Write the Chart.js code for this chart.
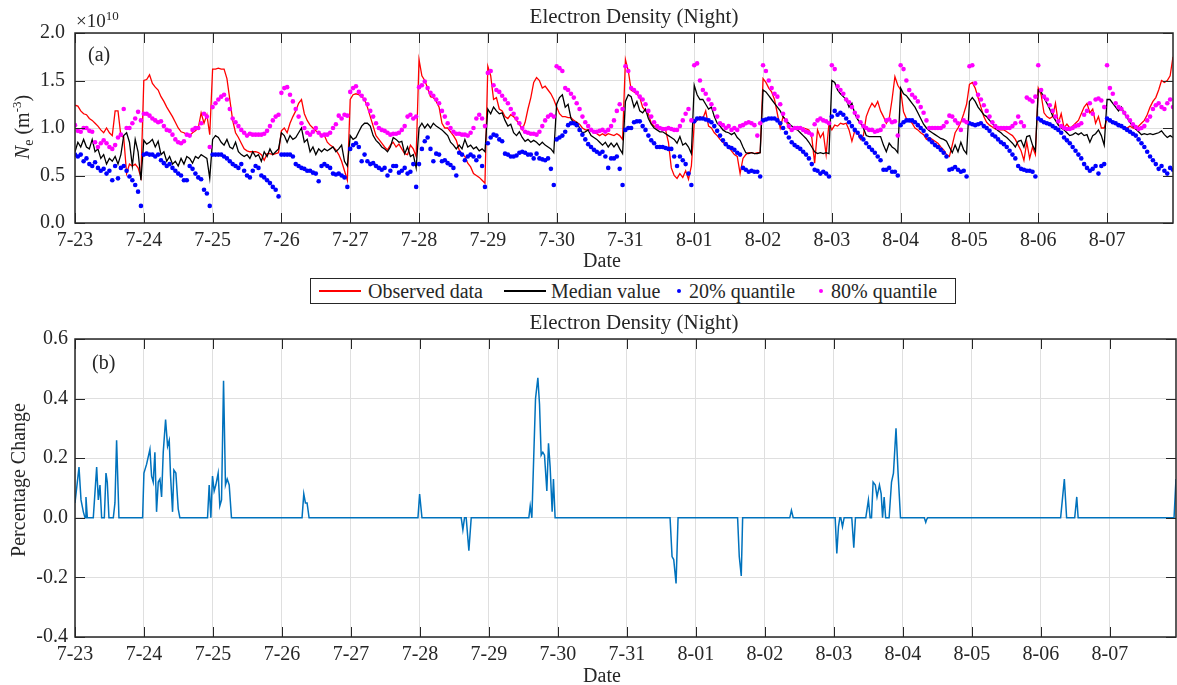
<!DOCTYPE html>
<html>
<head>
<meta charset="utf-8">
<script src="https://cdn.jsdelivr.net/npm/chart.js@4.4.1/dist/chart.umd.min.js"></script>
<style>
  body { margin: 0; background: #fff; }
  #wrap { position: relative; width: 1177px; height: 685px; overflow: hidden; font-family: 'Liberation Serif', 'Times New Roman', serif; color: #262626; }
  canvas { position: absolute; left: 0; }
  #legend { position: absolute; left: 310px; top: 278px; width: 644px; height: 24px; border: 1px solid #262626; background: #fff; font-size: 20px; }
  #legend span { position: absolute; top: 0; line-height: 24px; white-space: nowrap; }
  #legend .ln { top: 11px; height: 1.5px; }
  #legend .dot { top: 10px; width: 4px; height: 4px; border-radius: 50%; }
</style>
</head>
<body>
<div id="wrap">
  <canvas id="top" width="1177" height="272" style="top:0"></canvas>
  <div id="legend"></div>
  <canvas id="bottom" width="1177" height="380" style="top:305px"></canvas>
</div>
<script>
// tick labels for each day
var dayLabels = ['7-23','7-24','7-25','7-26','7-27','7-28','7-29','7-30','7-31','8-01','8-02','8-03','8-04','8-05','8-06','8-07'];

// hourly values, x1e10 m^-3, one row per day
var observed = [
1.24,1.23,1.18,1.15,1.14,1.10,1.08,1.05,1.02,0.98,0.95,1.00,0.95,0.92,1.18,1.18,0.92,0.90,0.52,0.62,0.60,0.62,0.58,0.48,
1.50,1.51,1.56,1.47,1.43,1.40,1.33,1.28,1.22,1.17,1.12,1.06,1.00,0.96,0.95,0.93,0.92,0.95,0.97,1.00,1.16,1.05,1.14,0.93,
1.62,1.62,1.63,1.62,1.62,1.52,1.30,1.08,0.95,0.90,0.84,0.78,0.76,0.75,0.75,0.75,0.74,0.72,0.66,0.73,0.73,0.72,0.73,0.74,
0.97,1.00,0.95,1.05,1.12,1.18,1.26,1.30,1.15,1.08,1.03,1.00,0.97,0.95,0.93,0.92,0.85,0.82,0.80,0.77,0.72,0.65,0.55,0.45,
1.30,1.35,1.36,1.35,1.33,1.30,1.22,1.12,1.02,0.92,0.88,0.84,0.80,0.77,0.82,0.85,0.80,0.83,0.78,0.73,0.72,0.82,0.78,0.70,
1.72,1.55,1.50,1.42,1.33,1.32,1.28,1.22,1.05,1.00,1.00,0.96,0.92,0.87,0.77,0.73,0.70,0.63,0.59,0.52,0.50,0.48,0.45,0.42,
1.65,1.55,1.30,1.32,1.20,1.18,1.12,1.10,1.14,1.12,1.08,1.04,0.98,1.06,1.20,1.32,1.48,1.53,1.50,1.42,1.44,1.40,1.36,1.30,
1.22,1.15,1.12,1.12,1.11,1.11,1.08,1.06,1.04,1.00,0.98,0.98,0.97,0.95,0.94,0.92,0.94,0.92,0.94,0.93,0.92,0.94,0.92,0.88,
1.72,1.60,1.40,1.38,1.36,1.32,1.22,1.18,1.15,1.05,1.02,1.00,1.00,1.00,0.98,0.85,0.58,0.50,0.47,0.52,0.48,0.55,0.46,0.60,
1.05,1.08,1.12,1.10,1.18,1.02,1.00,0.95,0.92,0.88,0.85,0.82,0.80,0.76,0.72,0.70,0.52,0.68,0.72,0.74,0.74,0.73,0.74,0.74,
1.52,1.48,1.42,1.38,1.30,1.15,1.00,1.12,1.08,1.00,0.98,0.99,0.98,0.99,1.00,0.99,0.98,0.90,0.63,0.98,0.90,0.95,0.72,1.05,
0.98,1.03,1.02,1.05,1.04,1.05,0.98,0.86,0.97,0.95,0.88,0.92,1.12,1.20,1.26,1.22,1.28,1.18,1.12,1.05,1.10,1.30,1.54,1.45,
1.40,1.17,1.10,1.08,1.05,1.00,0.98,0.95,0.93,0.88,0.90,0.88,0.86,0.84,0.80,0.77,0.72,0.70,0.82,0.95,1.00,1.06,1.15,1.25,
1.46,1.48,1.42,1.32,1.22,1.12,1.06,1.03,1.01,0.99,0.98,0.98,0.98,0.96,0.94,0.92,0.88,0.82,0.76,0.66,0.85,0.68,0.80,0.72,
1.42,1.35,1.16,1.12,1.10,1.12,1.26,1.05,1.15,1.00,1.04,1.00,1.02,1.05,1.08,1.15,1.22,1.26,1.16,1.20,1.05,1.12,1.00,1.00,
1.10,1.08,1.05,1.04,1.03,1.02,1.00,1.00,1.02,1.00,0.99,1.02,1.05,1.08,1.14,1.22,1.28,1.32,1.40,1.50,1.48,1.50,1.55,1.75
];

var median = [
0.75,0.85,0.80,0.88,0.80,0.78,0.88,0.75,0.78,0.68,0.72,0.62,0.68,0.65,0.70,0.62,0.72,0.92,0.95,0.85,0.60,0.88,0.75,0.45,
0.87,0.83,0.85,0.88,0.80,0.86,0.72,0.75,0.65,0.70,0.62,0.65,0.60,0.68,0.62,0.70,0.68,0.63,0.70,0.68,0.72,0.70,0.68,0.47,
0.88,0.92,0.90,0.85,0.82,0.88,0.80,0.78,0.85,0.75,0.72,0.70,0.72,0.68,0.75,0.70,0.72,0.65,0.75,0.70,0.78,0.72,0.75,0.78,
0.95,0.92,0.85,0.92,0.88,0.90,0.95,1.00,0.85,0.88,0.75,0.80,0.72,0.78,0.75,0.78,0.76,0.78,0.80,0.75,0.78,0.82,0.65,0.60,
0.92,0.88,0.90,0.96,1.02,1.05,1.05,1.02,0.92,0.87,0.84,0.80,0.78,0.75,0.80,0.90,0.88,0.85,0.86,0.73,0.80,0.70,0.72,0.58,
1.00,1.05,1.00,1.04,1.00,1.05,1.02,1.00,0.98,0.95,0.92,0.85,0.82,0.78,0.82,0.78,0.88,0.80,0.82,0.78,0.80,0.76,0.78,0.75,
1.20,1.15,1.22,1.18,1.15,1.16,1.08,1.02,1.04,0.95,0.92,0.96,0.90,0.86,0.88,0.85,0.87,0.85,0.82,0.85,0.82,0.80,0.78,0.74,
1.25,1.32,1.35,1.22,1.25,1.10,1.05,1.06,1.00,0.95,0.96,0.98,0.92,0.90,0.88,0.85,0.82,0.85,0.80,0.84,0.80,0.84,0.78,0.73,
1.28,1.35,1.33,1.22,1.28,1.18,1.16,1.20,1.10,1.04,1.00,0.98,0.96,0.96,0.94,0.92,0.90,0.88,0.84,0.91,0.82,0.84,0.80,0.73,
1.45,1.35,1.30,1.30,1.25,1.20,1.22,1.12,1.05,1.02,0.98,0.96,0.95,0.93,0.95,0.90,0.87,0.80,0.74,0.73,0.74,0.73,0.73,0.74,
1.40,1.38,1.34,1.30,1.26,1.22,1.18,1.12,1.08,1.05,1.02,1.00,0.98,0.95,0.92,0.89,0.85,0.80,0.75,0.73,0.74,0.73,0.74,0.73,
1.50,1.48,1.40,1.36,1.33,1.30,1.22,1.26,1.15,1.09,1.05,1.00,0.92,0.91,0.91,0.91,0.91,0.91,0.82,0.75,0.84,0.80,0.78,0.74,
1.42,1.36,1.34,1.30,1.26,1.22,1.16,1.10,1.04,1.00,0.97,0.95,0.93,0.91,0.89,0.88,0.86,0.80,0.74,0.82,0.75,0.85,0.77,0.73,
1.28,1.32,1.28,1.22,1.18,1.14,1.12,1.08,1.05,1.00,0.97,0.95,0.92,0.90,0.87,0.84,0.80,0.86,0.87,0.80,0.91,0.92,0.82,0.76,
1.40,1.38,1.32,1.26,1.20,1.13,1.08,1.03,1.00,0.98,0.95,0.92,0.93,0.95,0.93,0.95,0.92,0.93,0.85,0.92,0.94,0.98,0.92,0.82,
1.30,1.30,1.26,1.22,1.18,1.22,1.15,1.11,1.06,1.02,0.99,0.96,0.93,0.94,0.93,0.94,0.93,0.94,0.95,0.97,0.93,0.90,0.92,0.90
];

var q20 = [
0.72,0.70,0.72,0.65,0.68,0.62,0.60,0.64,0.58,0.55,0.57,0.52,0.55,0.45,0.60,0.47,0.58,0.60,0.55,0.49,0.45,0.40,0.33,0.18,
0.72,0.73,0.72,0.72,0.70,0.72,0.66,0.63,0.60,0.62,0.58,0.55,0.52,0.50,0.45,0.45,0.60,0.57,0.52,0.48,0.46,0.35,0.31,0.18,
0.72,0.72,0.72,0.72,0.70,0.68,0.65,0.62,0.60,0.58,0.62,0.55,0.50,0.48,0.55,0.60,0.58,0.50,0.48,0.45,0.42,0.38,0.35,0.28,
0.72,0.72,0.72,0.72,0.70,0.62,0.60,0.58,0.57,0.55,0.55,0.53,0.52,0.44,0.60,0.62,0.60,0.58,0.52,0.51,0.52,0.50,0.48,0.38,
0.78,0.82,0.84,0.80,0.65,0.72,0.65,0.62,0.63,0.60,0.58,0.56,0.58,0.50,0.55,0.60,0.60,0.53,0.55,0.58,0.52,0.54,0.62,0.38,
0.62,0.78,0.86,0.90,0.78,0.65,0.73,0.72,0.65,0.66,0.63,0.61,0.58,0.50,0.74,0.72,0.66,0.70,0.72,0.70,0.66,0.70,0.60,0.38,
0.84,0.90,0.93,0.92,0.88,0.86,0.73,0.72,0.70,0.70,0.71,0.74,0.75,0.74,0.72,0.72,0.68,0.73,0.68,0.67,0.66,0.68,0.57,0.40,
0.88,0.90,0.92,0.96,1.03,1.05,1.05,1.03,0.98,0.93,0.88,0.83,0.80,0.77,0.75,0.73,0.75,0.70,0.58,0.68,0.68,0.70,0.57,0.40,
0.98,1.00,1.00,1.06,1.07,1.07,1.02,0.98,0.92,0.87,0.84,0.80,0.80,0.80,0.79,0.78,0.78,0.70,0.60,0.70,0.66,0.62,0.52,0.40,
1.07,1.10,1.10,1.10,1.09,1.08,1.06,1.02,0.97,0.92,0.87,0.83,0.80,0.79,0.77,0.74,0.72,0.58,0.56,0.54,0.55,0.54,0.54,0.49,
1.08,1.09,1.10,1.10,1.10,1.08,1.05,1.00,0.95,0.90,0.85,0.82,0.80,0.78,0.75,0.72,0.68,0.62,0.56,0.55,0.52,0.54,0.52,0.49,
1.12,1.18,1.14,1.16,1.14,1.10,1.06,1.02,0.98,0.95,0.91,0.88,0.84,0.80,0.77,0.74,0.70,0.66,0.56,0.56,0.58,0.54,0.54,0.50,
1.03,1.06,1.08,1.08,1.08,1.06,1.03,1.00,0.97,0.92,0.88,0.85,0.82,0.80,0.77,0.74,0.70,0.56,0.57,0.59,0.56,0.54,0.55,0.49,
1.05,1.04,1.03,1.04,1.05,1.02,1.00,0.97,0.93,0.91,0.88,0.85,0.83,0.80,0.76,0.72,0.68,0.60,0.57,0.56,0.55,0.55,0.54,0.49,
1.10,1.08,1.06,1.05,1.04,1.02,1.00,0.98,0.95,0.90,0.87,0.84,0.80,0.76,0.72,0.68,0.62,0.58,0.55,0.57,0.60,0.52,0.60,0.62,
1.10,1.08,1.06,1.05,1.03,1.02,1.00,0.98,0.96,0.94,0.92,0.88,0.84,0.80,0.75,0.70,0.66,0.62,0.57,0.60,0.55,0.52,0.58,0.56
];

var q80 = [
1.03,0.97,0.96,1.00,1.00,0.97,0.96,0.85,0.80,0.84,0.87,0.84,0.80,0.78,0.82,0.90,0.93,1.20,1.00,1.00,1.05,1.10,1.17,1.08,
1.15,1.15,1.13,1.10,1.08,1.06,1.07,1.02,0.98,0.97,0.93,0.88,0.85,0.84,0.86,0.93,0.92,0.98,1.00,1.00,1.05,1.15,1.12,0.80,
1.22,1.26,1.30,1.33,1.35,1.30,1.20,1.10,1.06,1.02,0.98,0.95,0.92,0.94,0.93,0.93,0.93,0.93,0.94,0.97,1.02,1.08,1.12,1.14,
1.37,1.42,1.43,1.35,1.28,1.20,1.12,1.05,1.00,0.95,0.93,0.96,1.00,0.95,0.92,0.93,0.93,0.95,1.00,1.04,1.13,1.10,1.14,1.13,
1.38,1.42,1.44,1.38,1.34,1.30,1.25,1.18,1.12,1.05,1.00,0.98,0.97,0.95,0.93,0.94,0.94,0.95,0.98,1.02,1.12,1.14,1.10,1.12,
1.43,1.45,1.49,1.42,1.37,1.34,1.30,1.26,1.18,1.12,1.05,1.00,0.96,0.94,0.94,0.93,0.93,0.92,0.95,1.00,1.10,1.14,1.10,1.02,
1.58,1.60,1.45,1.40,1.38,1.34,1.30,1.26,1.20,1.15,1.10,1.05,1.00,0.96,0.95,0.94,0.94,0.93,0.96,1.02,1.08,1.12,1.14,1.12,
1.65,1.63,1.60,1.42,1.40,1.36,1.32,1.26,1.20,1.12,1.06,1.02,0.98,0.96,0.96,0.97,0.98,0.96,0.98,1.02,1.08,1.18,1.25,1.20,
1.65,1.60,1.42,1.40,1.37,1.33,1.30,1.25,1.18,1.12,1.06,1.02,1.00,0.99,0.99,1.00,0.99,0.98,0.98,1.02,1.08,1.15,1.20,1.08,
1.66,1.68,1.50,1.40,1.36,1.30,1.25,1.20,1.12,1.05,1.03,1.00,1.02,0.98,1.00,0.98,1.02,1.03,1.05,1.06,1.05,1.03,0.92,1.05,
1.66,1.60,1.50,1.42,1.36,1.33,1.25,1.15,1.08,1.02,0.98,1.00,1.00,1.00,0.98,0.96,0.95,0.93,1.04,1.08,1.10,1.08,1.07,1.05,
1.66,1.62,1.44,1.40,1.36,1.30,1.27,1.22,1.16,1.12,1.06,1.02,1.00,0.98,0.98,0.96,0.97,0.98,1.02,1.08,1.09,1.06,1.07,0.92,
1.66,1.62,1.50,1.40,1.35,1.32,1.28,1.22,1.16,1.08,1.00,1.00,1.00,1.00,1.00,1.02,1.06,1.13,1.12,1.08,1.05,0.98,1.08,1.06,
1.65,1.66,1.47,1.35,1.30,1.24,1.18,1.12,1.06,1.02,1.00,1.00,1.00,1.00,1.00,1.02,1.05,1.12,1.06,1.02,1.32,1.30,1.28,1.33,
1.66,1.40,1.33,1.30,1.24,1.18,1.12,1.07,1.02,1.00,0.99,0.99,1.00,1.02,1.03,1.05,1.14,1.18,1.26,1.15,1.30,1.31,1.29,1.22,
1.66,1.42,1.36,1.26,1.22,1.20,1.16,1.12,1.08,1.04,1.01,0.99,1.00,1.02,1.08,1.12,1.20,1.24,1.26,1.22,1.20,1.26,1.30,1.22
];

// percentage change, x in days from 7-23
var pctX = [
0,0.058,0.087,0.121,0.145,0.159,0.179,0.265,0.314,0.338,0.362,0.386,0.425,0.449,0.468,0.492,0.555,0.579,0.603,0.637,
0.98,0.999,1.038,1.086,1.110,1.134,1.158,1.182,1.207,1.231,1.255,1.279,1.313,1.342,1.366,1.385,1.414,1.433,1.462,1.496,1.52,
1.921,1.945,1.969,1.993,2.017,2.041,2.075,2.099,2.124,2.153,2.181,2.206,2.235,2.268,
3.291,3.316,3.34,3.364,3.393,
4.971,4.995,5.029,
5.598,5.622,5.646,5.67,5.709,5.743,
6.578,6.598,6.622,6.675,6.709,6.733,6.757,6.781,6.805,6.839,6.863,6.887,6.916,6.935,6.959,
8.625,8.654,8.678,8.712,8.741,
9.604,9.628,9.657,9.677,
10.36,10.384,10.41,
11.018,11.042,11.066,11.085,11.1,11.124,11.148,11.259,11.288,11.312,11.462,11.5,11.525,11.545,11.568,11.6,11.625,11.66,11.685,11.705,11.728,11.75,11.8,11.835,11.863,11.9,11.93,11.965,
12.31,12.331,12.345,12.36,
14.286,14.34,14.373,
14.49,14.52,14.54,
15.93,15.958
];
var pctY = [
0.05,0.17,0.06,0.02,0,0.07,0,0,0.17,0.06,0.11,0,0,0.15,0.12,0,0,0.05,0.26,0,
0,0.15,0.18,0.23,0.14,0.12,0.22,0.02,0.12,0.13,0.07,0.22,0.33,0.24,0.26,0.14,0.02,0.16,0.15,0.03,0,
0,0.11,0,0.14,0.09,0.11,0.15,0.04,0.06,0.46,0.11,0.13,0.11,0,
0,0.08,0.05,0.05,0,
0,0.08,0,
0,-0.04,0,0,-0.11,0,
0,0.04,0,0.4,0.47,0.38,0.21,0.22,0.21,0.09,0.25,0.17,0.02,0.13,0,
0,-0.13,-0.14,-0.22,0,
0,-0.13,-0.195,0,
0,0.025,0,
0,-0.12,-0.03,0,0,-0.03,0,0,-0.1,0,0,0.06,0,0,0.12,0.11,0.07,0.11,0.08,0,0.07,0,0,0.12,0.15,0.30,0.15,0,
0,-0.015,-0.005,0,
0,0.13,0,
0,0.07,0,
0,0.13
];

var serif = "'Liberation Serif', 'Times New Roman', serif";
var ink = '#262626';
Chart.defaults.font.family = serif;
Chart.defaults.font.size = 20;
Chart.defaults.color = ink;

function hourly(arr) {
    return arr.map(function(v, i) { return {x: i / 24, y: v}; });
}
var xMax = (observed.length - 1) / 24;

// box round the plot area and inward ticks on all four sides
var framePlugin = {
    id: 'frame',
    afterDatasetsDraw: function(chart) {
        var ctx = chart.ctx, a = chart.chartArea;
        var sx = chart.scales.x, sy = chart.scales.y;
        ctx.save();
        ctx.strokeStyle = ink;
        ctx.lineWidth = 1;
        ctx.beginPath();
        sx.ticks.forEach(function(t) {
            var px = Math.round(sx.getPixelForValue(t.value)) + 0.5;
            ctx.moveTo(px, a.bottom); ctx.lineTo(px, a.bottom - 10);
            ctx.moveTo(px, a.top); ctx.lineTo(px, a.top + 10);
        });
        sy.ticks.forEach(function(t) {
            var py = Math.round(sy.getPixelForValue(t.value)) + 0.5;
            ctx.moveTo(a.left, py); ctx.lineTo(a.left + 10, py);
            ctx.moveTo(a.right, py); ctx.lineTo(a.right - 10, py);
        });
        ctx.stroke();
        ctx.lineWidth = 1.5;
        ctx.strokeRect(a.left, a.top, a.right - a.left, a.bottom - a.top);
        ctx.restore();
    }
};

// titles, axis names and panel letters
function drawParts(ctx, parts, x, y, center) {
    var w = 0;
    parts.forEach(function(p) { ctx.font = p.font; w += ctx.measureText(p.t).width; });
    var cx = center ? x - w / 2 : x;
    parts.forEach(function(p) {
        ctx.font = p.font;
        ctx.fillText(p.t, cx, y + (p.dy || 0));
        cx += ctx.measureText(p.t).width;
    });
}
var textPlugin = {
    id: 'texts',
    afterDraw: function(chart, args, o) {
        var ctx = chart.ctx;
        ctx.save();
        ctx.fillStyle = ink;
        ctx.textBaseline = 'alphabetic';
        ctx.textAlign = 'left';
        var f20 = '20px ' + serif;
        drawParts(ctx, [{t: 'Electron Density (Night)', font: '21px ' + serif}], o.titleX, o.titleY, true);
        drawParts(ctx, [{t: 'Date', font: f20}], o.dateX, o.dateY, true);
        drawParts(ctx, [{t: o.panel, font: f20}], o.panelX, o.panelY, false);
        if (o.exponent) {
            drawParts(ctx, [{t: '\u00d710', font: '19px ' + serif}, {t: '10', font: '13px ' + serif, dy: -7}], 76, 27, false);
        }
        ctx.translate(o.yTitleX, o.yTitleY);
        ctx.rotate(-Math.PI / 2);
        drawParts(ctx, o.yTitle, 0, 7, true);
        ctx.restore();
    }
};

function xScale() {
    return {
        type: 'linear', min: 0, max: xMax,
        afterBuildTicks: function(s) { s.ticks = dayLabels.map(function(_, i) { return {value: i}; }); },
        ticks: { padding: 6, maxRotation: 0, autoSkip: false, callback: function(v) { return dayLabels[v]; } },
        grid: { color: '#dfdfdf', lineWidth: 1, drawTicks: false },
        border: { display: false }
    };
}

var topChart = new Chart(document.getElementById('top'), {
    type: 'line',
    data: {
        datasets: [
            { label: 'Observed data', data: hourly(observed), borderColor: '#ff0000', borderWidth: 1.3, pointRadius: 0, order: 4 },
            { label: 'Median value', data: hourly(median), borderColor: '#000000', borderWidth: 1.3, pointRadius: 0, order: 3 },
            { label: '20% quantile', data: hourly(q20), showLine: false, pointRadius: 2.3, pointBorderWidth: 0, pointBackgroundColor: '#0000ff', order: 2 },
            { label: '80% quantile', data: hourly(q80), showLine: false, pointRadius: 2.3, pointBorderWidth: 0, pointBackgroundColor: '#ff00ff', order: 1 }
        ]
    },
    options: {
        responsive: false, animation: false, events: [],
        layout: { padding: { top: 33, right: 1, left: 0, bottom: 0 } },
        scales: {
            x: Object.assign(xScale(), { afterFit: function(s) { s.height = 49; } }),
            y: {
                min: 0, max: 2,
                afterFit: function(s) { s.width = 75; },
                ticks: { stepSize: 0.5, padding: 10, callback: function(v) { return v.toFixed(1); } },
                grid: { color: '#dfdfdf', lineWidth: 1, drawTicks: false },
                border: { display: false }
            }
        },
        plugins: {
            legend: { display: false }, tooltip: { enabled: false },
            texts: {
                titleX: 634, titleY: 23, dateX: 602, dateY: 267, panel: '(a)', panelX: 88, panelY: 61, exponent: true,
                yTitleX: 22, yTitleY: 127,
                yTitle: [
                    {t: 'N', font: 'italic 20px ' + serif},
                    {t: 'e', font: '14px ' + serif, dy: 4},
                    {t: ' (m', font: '20px ' + serif},
                    {t: '-3', font: '13px ' + serif, dy: -8},
                    {t: ')', font: '20px ' + serif}
                ]
            }
        }
    },
    plugins: [framePlugin, textPlugin]
});

var bottomChart = new Chart(document.getElementById('bottom'), {
    type: 'line',
    data: {
        datasets: [{
            label: 'Percentage Change',
            data: pctX.map(function(x, i) { return {x: x, y: pctY[i]}; }),
            borderColor: '#0072bd', borderWidth: 1.5, pointRadius: 0
        }]
    },
    options: {
        responsive: false, animation: false, events: [],
        layout: { padding: { top: 34, right: 1, left: 0, bottom: 0 } },
        scales: {
            x: Object.assign(xScale(), { afterFit: function(s) { s.height = 48; } }),
            y: {
                min: -0.4, max: 0.6,
                afterFit: function(s) { s.width = 75; },
                ticks: { stepSize: 0.2, padding: 7, callback: function(v) { return Math.abs(v) < 1e-9 ? '0.0' : v.toFixed(1); } },
                grid: { color: '#dfdfdf', lineWidth: 1, drawTicks: false },
                border: { display: false }
            }
        },
        plugins: {
            legend: { display: false }, tooltip: { enabled: false },
            texts: {
                titleX: 634, titleY: 24, dateX: 602, dateY: 377, panel: '(b)', panelX: 92, panelY: 64, exponent: false,
                yTitleX: 18, yTitleY: 175,
                yTitle: [{t: 'Percentage Change', font: '20px ' + serif}]
            }
        }
    },
    plugins: [framePlugin, textPlugin]
});

// legend box between the panels, built from the top chart's datasets
var legendPos = [[8, 50, 57], [193, 235, 240], [366, null, 378], [508, null, 520]];
var legendDiv = document.getElementById('legend');
topChart.data.datasets.forEach(function(ds, i) {
    var p = legendPos[i];
    var mark = document.createElement('span');
    mark.style.left = p[0] + 'px';
    if (ds.showLine === false) {
        mark.className = 'dot';
        mark.style.background = ds.pointBackgroundColor;
    } else {
        mark.className = 'ln';
        mark.style.width = (p[1] - p[0]) + 'px';
        mark.style.background = ds.borderColor;
    }
    legendDiv.appendChild(mark);
    var txt = document.createElement('span');
    txt.textContent = ds.label;
    txt.style.left = p[2] + 'px';
    legendDiv.appendChild(txt);
});
</script>
</body>
</html>
